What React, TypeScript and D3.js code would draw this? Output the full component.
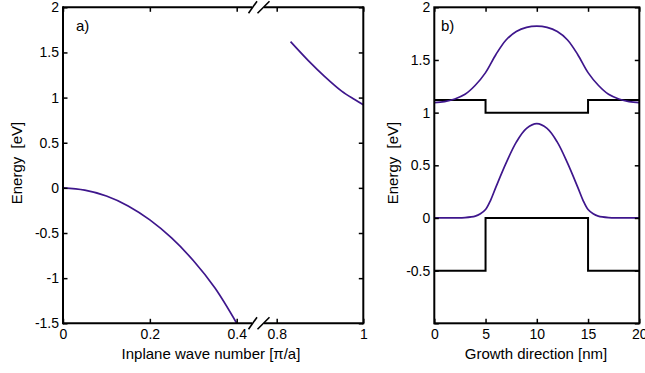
import React, { useEffect, useRef } from 'react';
import * as d3 from 'd3';

// panel a) inplane dispersion, k in units of pi/a
const kValence = [0, 0.05, 0.1, 0.15, 0.2, 0.25, 0.3, 0.35, 0.4];
const eValence = [0, -0.025, -0.09, -0.2, -0.355, -0.555, -0.805, -1.11, -1.5];
const kConduction = [0.832, 0.873, 0.911, 0.95, 0.981, 1.0];
const eConduction = [1.62, 1.41, 1.233, 1.072, 0.976, 0.92];
const kTicksLow = [0, 0.2, 0.4];
const kTicksHigh = [0.8, 1];
const energyTicksA = [-1.5, -1, -0.5, 0, 0.5, 1, 1.5, 2];

// panel b) band profile and wavefunctions along growth direction (nm)
const zProfile = [0, 5, 5, 15, 15, 20];
const cbProfile = [1.12, 1.12, 1.0, 1.0, 1.12, 1.12];
const vbProfile = [-0.5, -0.5, 0, 0, -0.5, -0.5];
const zUpper = [0, 1, 2, 3, 4, 5, 6, 7, 8, 9, 10, 11, 12, 13, 14, 15, 16, 17, 18, 19, 20];
const eUpper = [1.095, 1.104, 1.13, 1.174, 1.26, 1.38, 1.55, 1.69, 1.77, 1.81, 1.822,
  1.81, 1.77, 1.69, 1.55, 1.38, 1.26, 1.174, 1.13, 1.104, 1.095];
const zLower = [0, 1, 2, 3, 4, 4.5, 5, 5.5, 6, 7, 8, 9, 10, 11, 12, 13, 14, 14.5, 15, 15.5, 16, 17, 18, 19, 20];
const eLower = [0, 0, 0.001, 0.004, 0.018, 0.04, 0.08, 0.17, 0.29, 0.52, 0.72, 0.85, 0.895,
  0.85, 0.72, 0.52, 0.29, 0.17, 0.08, 0.04, 0.018, 0.004, 0.001, 0, 0];
const zTicks = [0, 5, 10, 15, 20];
const energyTicksB = [-1, -0.5, 0, 0.5, 1, 1.5, 2];

const FONT = '"Liberation Sans", Arial, Helvetica, sans-serif';
const PURPLE = '#3e168c';

export default function App() {
  const ref = useRef<SVGSVGElement>(null);

  useEffect(() => {
    const svg = d3.select(ref.current);
    svg.selectAll('*').remove();

    const top = 7.3, bottom = 323.3;
    const tick = 4.5;
    const smooth = d3.curveCatmullRom.alpha(0.5);

    const styleAxis = (g: any) => {
      g.select('.domain').remove();
      g.selectAll('line').attr('stroke', '#000').attr('stroke-width', 1.5);
      g.selectAll('text')
        .attr('font-size', 14)
        .attr('font-family', FONT)
        .attr('fill', '#000');
    };
    const fmt = (d: any) => String(d);
    const blank = () => '';

    // ---------------- panel a
    const xa1 = d3.scaleLinear().domain([0, 0.4]).range([63, 236.7]);
    const xa2 = d3.scaleLinear().domain([0.8, 1]).range([276.7, 363.3]);
    const ya = d3.scaleLinear().domain([-1.5, 2]).range([bottom, top]);

    const ga = svg.append('g');

    const lineA1 = d3.line<number>()
      .x((d, i) => xa1(kValence[i]))
      .y(d => ya(d))
      .curve(smooth);
    const lineA2 = d3.line<number>()
      .x((d, i) => xa2(kConduction[i]))
      .y(d => ya(d))
      .curve(smooth);

    ga.append('path').attr('d', lineA1(eValence))
      .attr('fill', 'none').attr('stroke', PURPLE).attr('stroke-width', 1.7);
    ga.append('path').attr('d', lineA2(eConduction))
      .attr('fill', 'none').attr('stroke', PURPLE).attr('stroke-width', 1.7);

    ga.append('g').attr('transform', `translate(0,${bottom})`)
      .call(d3.axisBottom(xa1).tickValues(kTicksLow).tickSize(-tick).tickPadding(6).tickFormat(fmt))
      .call(styleAxis);
    ga.append('g').attr('transform', `translate(0,${bottom})`)
      .call(d3.axisBottom(xa2).tickValues(kTicksHigh).tickSize(-tick).tickPadding(6).tickFormat(fmt))
      .call(styleAxis);
    ga.append('g').attr('transform', `translate(0,${top})`)
      .call(d3.axisTop(xa1).tickValues(kTicksLow).tickSize(-tick).tickFormat(blank))
      .call(styleAxis);
    ga.append('g').attr('transform', `translate(0,${top})`)
      .call(d3.axisTop(xa2).tickValues(kTicksHigh).tickSize(-tick).tickFormat(blank))
      .call(styleAxis);
    ga.append('g').attr('transform', `translate(${xa1(0)},0)`)
      .call(d3.axisLeft(ya).tickValues(energyTicksA).tickSize(-tick).tickPadding(4).tickFormat(fmt))
      .call(styleAxis);
    ga.append('g').attr('transform', `translate(${xa2(1)},0)`)
      .call(d3.axisRight(ya).tickValues(energyTicksA).tickSize(-tick).tickFormat(blank))
      .call(styleAxis);

    // frame with axis break
    const breakL = 252, breakR = 264;
    const frame = ga.append('g').attr('stroke', '#000').attr('stroke-width', 2).attr('fill', 'none');
    [top, bottom].forEach(y => {
      frame.append('line').attr('x1', xa1(0)).attr('x2', breakL).attr('y1', y).attr('y2', y);
      frame.append('line').attr('x1', breakR).attr('x2', xa2(1)).attr('y1', y).attr('y2', y);
      frame.append('line').attr('x1', 248.5).attr('x2', 257).attr('y1', y + 6).attr('y2', y - 6).attr('stroke-width', 1.6);
      frame.append('line').attr('x1', 257.5).attr('x2', 269.5).attr('y1', y + 6).attr('y2', y - 6).attr('stroke-width', 1.6);
    });
    frame.append('line').attr('x1', xa1(0)).attr('x2', xa1(0)).attr('y1', top - 1).attr('y2', bottom + 1);
    frame.append('line').attr('x1', xa2(1)).attr('x2', xa2(1)).attr('y1', top - 1).attr('y2', bottom + 1);

    ga.append('text').attr('x', 76).attr('y', 31).text('a)')
      .attr('font-size', 15).attr('font-family', FONT);
    ga.append('text').attr('x', 211).attr('y', 359).attr('text-anchor', 'middle')
      .text('Inplane wave number [π/a]').attr('font-size', 15).attr('font-family', FONT);
    ga.append('text').attr('transform', 'translate(17,163) rotate(-90)')
      .attr('text-anchor', 'middle').attr('dy', '0.35em')
      .style('white-space', 'pre')
      .text('Energy  [eV]').attr('font-size', 15).attr('font-family', FONT);

    // ---------------- panel b
    const xb = d3.scaleLinear().domain([0, 20]).range([434.3, 639.3]);
    const yb = d3.scaleLinear().domain([-1, 2]).range([bottom, top]);
    const gb = svg.append('g');

    const profile = d3.line<number>().x((d, i) => xb(zProfile[i])).y(d => yb(d));
    const upper = d3.line<number>().x((d, i) => xb(zUpper[i])).y(d => yb(d)).curve(smooth);
    const lower = d3.line<number>().x((d, i) => xb(zLower[i])).y(d => yb(d)).curve(smooth);

    gb.append('path').attr('d', profile(cbProfile))
      .attr('fill', 'none').attr('stroke', '#000').attr('stroke-width', 2);
    gb.append('path').attr('d', profile(vbProfile))
      .attr('fill', 'none').attr('stroke', '#000').attr('stroke-width', 2);
    gb.append('path').attr('d', upper(eUpper))
      .attr('fill', 'none').attr('stroke', PURPLE).attr('stroke-width', 1.7);
    gb.append('path').attr('d', lower(eLower))
      .attr('fill', 'none').attr('stroke', PURPLE).attr('stroke-width', 1.7);

    gb.append('g').attr('transform', `translate(0,${bottom})`)
      .call(d3.axisBottom(xb).tickValues(zTicks).tickSize(-tick).tickPadding(6).tickFormat(fmt))
      .call(styleAxis);
    gb.append('g').attr('transform', `translate(0,${top})`)
      .call(d3.axisTop(xb).tickValues(zTicks).tickSize(-tick).tickFormat(blank))
      .call(styleAxis);
    gb.append('g').attr('transform', `translate(${xb(0)},0)`)
      .call(d3.axisLeft(yb).tickValues(energyTicksB).tickSize(-tick).tickPadding(4)
        .tickFormat((d: any) => (d === -1 ? '' : String(d))))
      .call(styleAxis);
    gb.append('g').attr('transform', `translate(${xb(20)},0)`)
      .call(d3.axisRight(yb).tickValues(energyTicksB).tickSize(-tick).tickFormat(blank))
      .call(styleAxis);

    gb.append('rect')
      .attr('x', xb(0)).attr('y', top)
      .attr('width', xb(20) - xb(0)).attr('height', bottom - top)
      .attr('fill', 'none').attr('stroke', '#000').attr('stroke-width', 2);

    gb.append('text').attr('x', 441).attr('y', 31).text('b)')
      .attr('font-size', 15).attr('font-family', FONT);
    gb.append('text').attr('x', 536).attr('y', 359).attr('text-anchor', 'middle')
      .text('Growth direction [nm]').attr('font-size', 15).attr('font-family', FONT);
    gb.append('text').attr('transform', 'translate(393,163) rotate(-90)')
      .attr('text-anchor', 'middle').attr('dy', '0.35em')
      .style('white-space', 'pre')
      .text('Energy  [eV]').attr('font-size', 15).attr('font-family', FONT);
  }, []);

  return (
    <svg ref={ref} width={645} height={373}
      style={{ position: 'absolute', left: 0, top: 0, background: '#fff' }} />
  );
}
